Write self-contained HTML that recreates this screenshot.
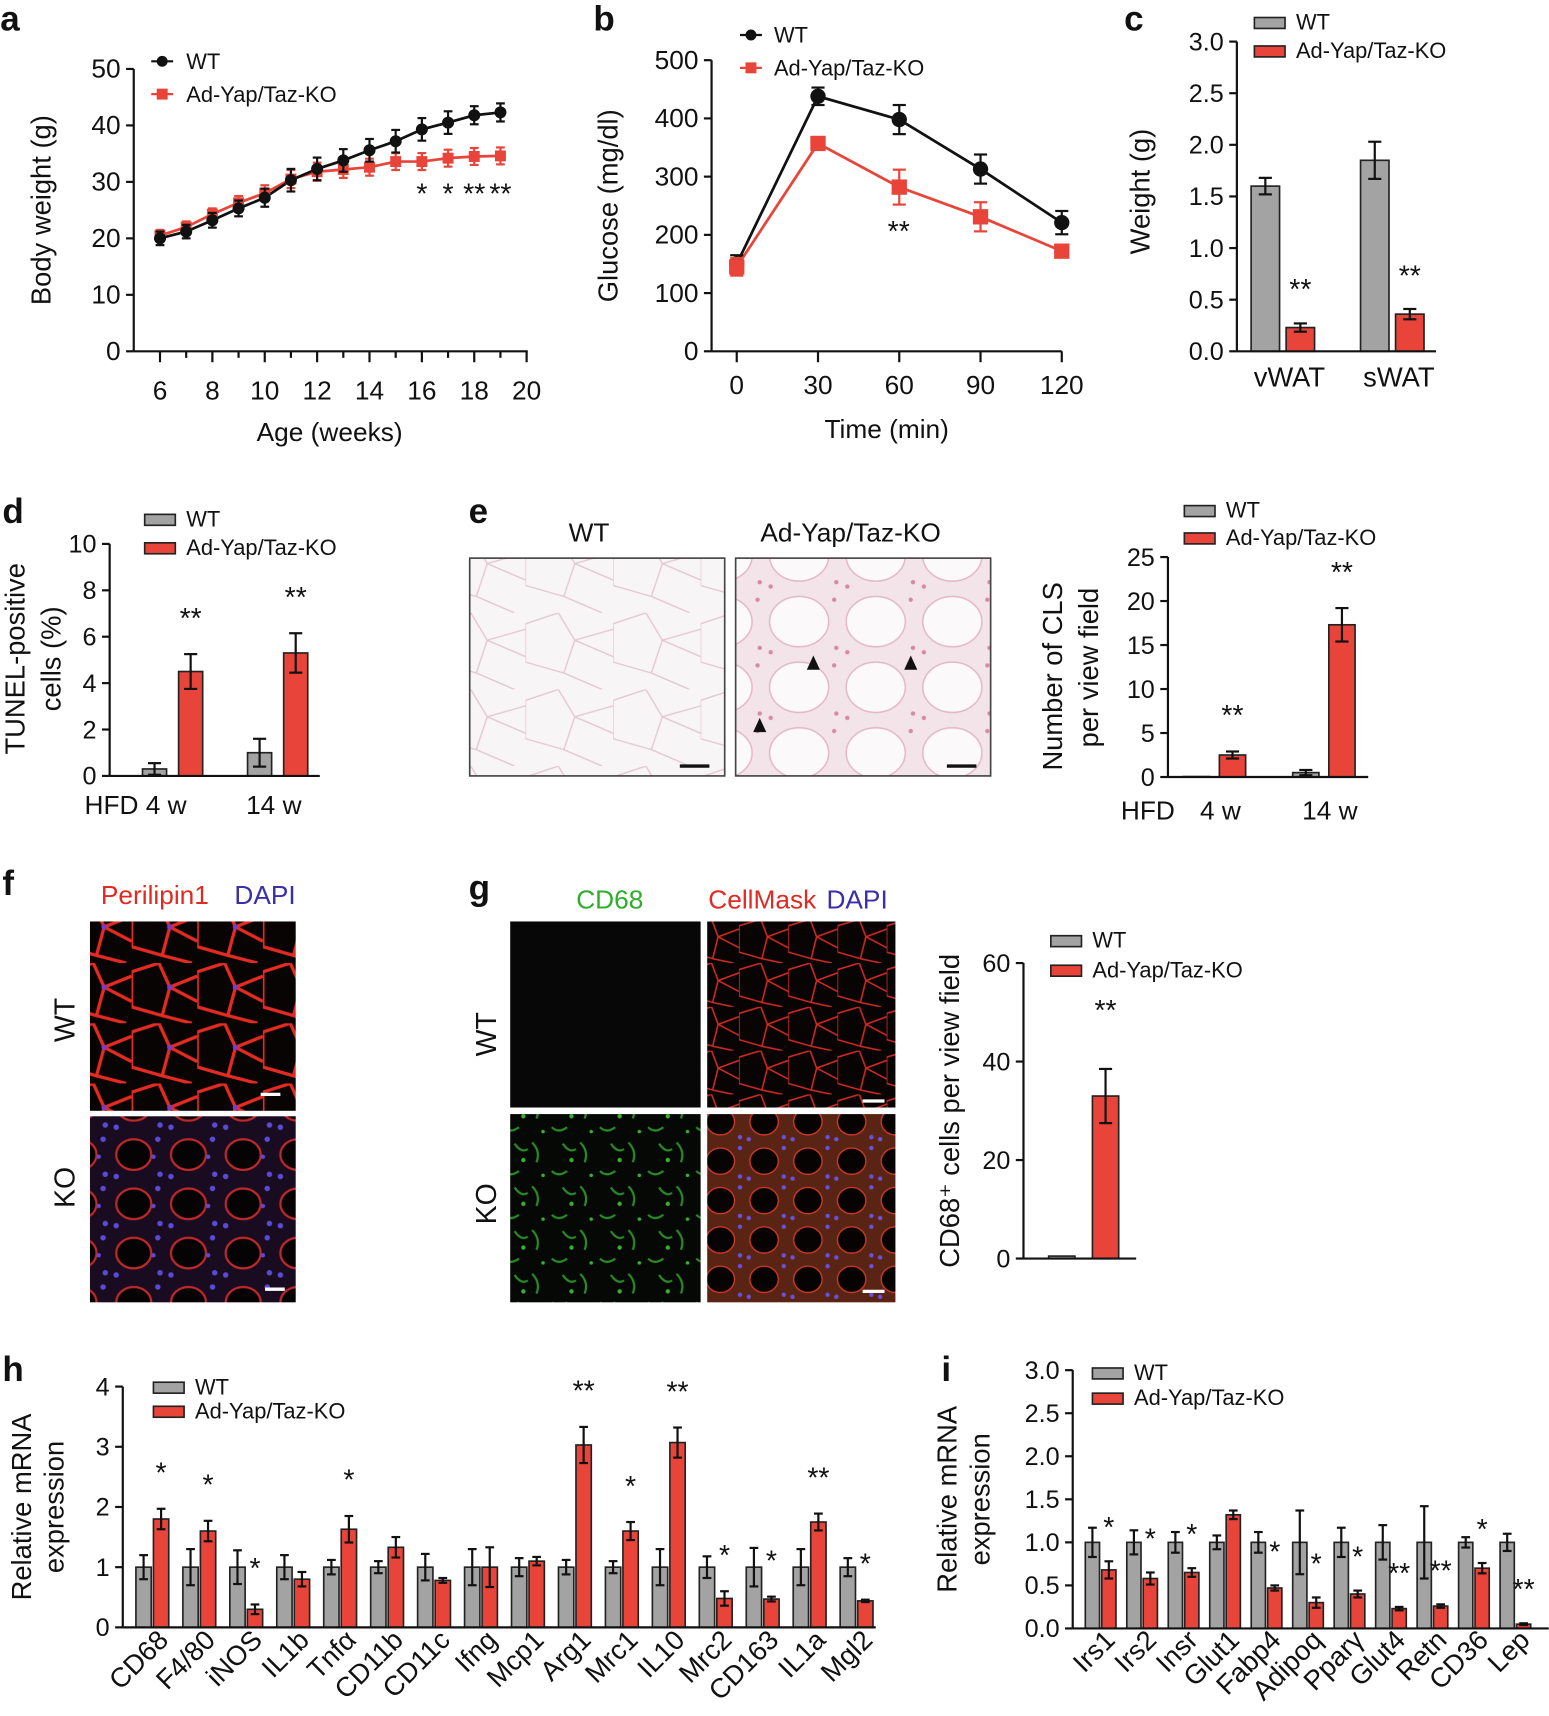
<!DOCTYPE html>
<html><head><meta charset="utf-8"><style>
html,body{margin:0;padding:0;background:#fff}
svg{display:block;font-family:"Liberation Sans",sans-serif}
</style></head><body>
<svg id="fig" width="1549" height="1716" viewBox="0 0 1415 1568" xmlns="http://www.w3.org/2000/svg">
<defs>
<pattern id="histoWT" width="80" height="70" patternUnits="userSpaceOnUse">
<rect width="80" height="70" fill="#f8f5f6"/>
<path d="M0 10 L30 0 M30 0 L45 25 L80 15 M45 25 L35 55 L0 45 M35 55 L70 70 M45 25 L80 40 M0 45 L0 10" stroke="#e2c6ce" stroke-width="1.2" fill="none"/>
</pattern>
<pattern id="histoKO" width="70" height="60" patternUnits="userSpaceOnUse">
<rect width="70" height="60" fill="#f3e4e9"/>
<ellipse cx="30" cy="28" rx="27" ry="23" fill="#fbf9fa" stroke="#e3b6c4" stroke-width="1.3"/>
<circle cx="62" cy="8" r="2" fill="#d88aa3"/><circle cx="64" cy="52" r="2" fill="#d88aa3"/><circle cx="4" cy="56" r="2" fill="#d88aa3"/>
</pattern>
<pattern id="fluoWT" width="60" height="55" patternUnits="userSpaceOnUse">
<rect width="60" height="55" fill="#080404"/>
<path d="M0 8 L25 0 M25 0 L35 22 L60 12 M35 22 L28 48 L0 40 M28 48 L55 55 M35 22 L60 35 M0 40 L0 8" stroke="#e52a22" stroke-width="3" fill="none"/>
<circle cx="35" cy="22" r="2.5" fill="#7a3cc8"/>
</pattern>
<pattern id="fluoKO" width="50" height="45" patternUnits="userSpaceOnUse">
<rect width="50" height="45" fill="#1a0c20"/>
<ellipse cx="22" cy="20" rx="16" ry="14" fill="#050303" stroke="#c0282a" stroke-width="2"/>
<circle cx="44" cy="6" r="2.5" fill="#5a4ad8"/><circle cx="46" cy="38" r="2.5" fill="#5a4ad8"/><circle cx="6" cy="40" r="2.5" fill="#5a4ad8"/><circle cx="40" cy="22" r="2" fill="#5a4ad8"/>
</pattern>
<pattern id="cellWT" width="45" height="40" patternUnits="userSpaceOnUse">
<rect width="45" height="40" fill="#080404"/>
<path d="M0 6 L20 0 M20 0 L26 16 L45 9 M26 16 L21 36 L0 30 M21 36 L40 40 M26 16 L45 26 M0 30 L0 6" stroke="#d42a22" stroke-width="1.4" fill="none"/>
</pattern>
<pattern id="cellKO" width="40" height="36" patternUnits="userSpaceOnUse">
<rect width="40" height="36" fill="#5a2414"/>
<ellipse cx="18" cy="17" rx="13" ry="12" fill="#080303" stroke="#d43a2a" stroke-width="1.2"/>
<circle cx="36" cy="5" r="2" fill="#6a50e0"/><circle cx="36" cy="31" r="2" fill="#6a50e0"/><circle cx="4" cy="33" r="2" fill="#6a50e0"/>
</pattern>
<pattern id="cd68KO" width="44" height="40" patternUnits="userSpaceOnUse">
<rect width="44" height="40" fill="#050805"/>
<path d="M2 4 Q10 12 6 22 M30 5 Q36 14 42 10 M20 30 Q26 36 34 30" stroke="#2a8a26" stroke-width="2" fill="none"/>
<circle cx="38" cy="20" r="2" fill="#3ab030"/><circle cx="12" cy="34" r="1.6" fill="#3ab030"/>
</pattern>
</defs>
</svg>
<script>
// ---------- data ----------
const aWeeks=[6,7,8,9,10,11,12,13,14,15,16,17,18,19];
const aWT=[20,21.2,23.2,25.3,27.2,30.3,32.3,33.8,35.6,37.2,39.3,40.5,41.8,42.3];
const aWTerr=[1.2,1.2,1.3,1.4,1.6,2,2,2,2,2,2,2,1.6,1.6];
const aKO=[20.5,22,24.3,26.3,28,30.5,31.8,32.2,32.6,33.6,33.6,34.2,34.5,34.6];
const aKOerr=[1,1,1,1.2,1.4,1.6,1.6,1.5,1.5,1.5,1.5,1.5,1.5,1.5];
const aStars=[[16,"*"],[17,"*"],[18,"**"],[19,"**"]];
const bTimes=[0,30,60,90,120];
const bWT=[150,438,398,313,221];
const bWTerr=[15,15,25,25,20];
const bKO=[145,357,282,231,172];
const bKOerr=[15,8,30,25,8];
const cCats=["vWAT","sWAT"];
const cWT=[1.6,1.85];
const cWTerr=[0.08,0.18];
const cKO=[0.23,0.36];
const cKOerr=[0.04,0.05];
const dCats=["4 w","14 w"];
const dWT=[0.3,1.0];
const dWTerr=[0.25,0.6];
const dKO=[4.5,5.3];
const dKOerr=[0.75,0.85];
const eWT=[0.05,0.5];
const eWTerr=[0,0.3];
const eKO=[2.5,17.3];
const eKOerr=[0.4,1.9];
const gWT=[0.5];
const gKO=[33];
const gKOerr=[5.5];
const hCats=["CD68","F4/80","iNOS","IL1b","Tnf\u03b1","CD11b","CD11c","Ifng","Mcp1","Arg1","Mrc1","IL10","Mrc2","CD163","IL1a","Mgl2"];
const hWT=[1,1,1,1,1,1,1,1,1,1,1,1,1,1,1,1];
const hWTerr=[0.2,0.3,0.28,0.2,0.12,0.1,0.22,0.3,0.15,0.12,0.1,0.3,0.18,0.32,0.3,0.15];
const hKO=[1.8,1.6,0.3,0.8,1.63,1.33,0.78,1.0,1.1,3.03,1.6,3.07,0.48,0.47,1.75,0.44];
const hKOerr=[0.17,0.17,0.08,0.12,0.22,0.17,0.04,0.33,0.07,0.3,0.15,0.25,0.12,0.04,0.14,0.02];
const hStars=["*","*","*","","*","","","","","**","*","**","*","*","**","*"];
const iCats=["Irs1","Irs2","Insr","Glut1","Fabp4","Adipoq","Ppar\u03b3","Glut4","Retn","CD36","Lep"];
const iWT=[1,1,1,1,1,1,1,1,1,1,1];
const iWTerr=[0.17,0.14,0.12,0.08,0.12,0.37,0.17,0.2,0.42,0.06,0.1];
const iKO=[0.68,0.58,0.65,1.32,0.47,0.3,0.4,0.23,0.26,0.7,0.05];
const iKOerr=[0.1,0.07,0.05,0.05,0.03,0.06,0.04,0.02,0.02,0.06,0.01];
const iStars=["*","*","*","","*","*","*","**","**","*","**"];

// ---------- helpers ----------
const NS="http://www.w3.org/2000/svg";
const svg=document.getElementById('fig');
const RED="#e8443a", GREY="#a3a3a3";
const SFS=26;
function el(tag,attrs,parent,txt){const e=document.createElementNS(NS,tag);for(const k in attrs)e.setAttribute(k,attrs[k]);if(txt!==undefined)e.textContent=txt;(parent||svg).appendChild(e);return e;}
function grp(name){const g=el('g',{});


return g;}
function lin(d0,d1,r0,r1){return v=>r0+(v-d0)*(r1-r0)/(d1-d0);}
function text(g,x,y,s,opt){opt=opt||{};const t=el('text',{x:x,y:y,'font-size':opt.fs||22,'text-anchor':opt.a||'middle',fill:opt.fill||'#111','font-weight':opt.w||'normal'},g,s);if(opt.rot)t.setAttribute('transform','rotate('+opt.rot+' '+x+' '+y+')');return t;}
function line(g,x1,y1,x2,y2,w,c){return el('line',{x1:x1,y1:y1,x2:x2,y2:y2,stroke:c||'#111','stroke-width':w||2},g);}
function yAxis(g,x,y,ticks,fmt,fs){const ys=ticks.map(y);line(g,x,Math.max(...ys),x,Math.min(...ys),2);ticks.forEach(t=>{line(g,x-7,y(t),x,y(t),2);text(g,x-12,y(t)+8,fmt(t),{a:'end',fs:fs||22});});}
function errbar(g,x,y0,y1,c,w){line(g,x,y0,x,y1,2,c);line(g,x-(w||5),y0,x+(w||5),y0,2,c);line(g,x-(w||5),y1,x+(w||5),y1,2,c);}
function legendBars(g,x,y,dy,fs){
 const r1=el('rect',{x:x,y:y,width:28,height:10,fill:GREY,stroke:'#222','stroke-width':1.5},g);
 
 
 text(g,x+38,y+11,'WT',{a:'start',fs:fs||20});
 const r2=el('rect',{x:x,y:y+dy,width:28,height:10,fill:RED,stroke:'#222','stroke-width':1.5},g);
 
 
 text(g,x+38,y+dy+11,'Ad-Yap/Taz-KO',{a:'start',fs:fs||20});
}
function bar(g,cx,w,yv,y0,fill,name){const r=el('rect',{x:cx-w/2,y:Math.min(yv,y0),width:w,height:Math.abs(y0-yv),fill:fill,stroke:'#222','stroke-width':1.5},g);
 
 
 return r;}

// ---------- panel labels ----------
const labs=[["a",0,28],["b",542,28],["c",1027,28],["d",2,478],["e",428,478],["f",2,818],["g",428,822],["h",2,1262],["i",860,1262]];
labs.forEach(([l,x,y])=>{const g=grp('panel-label-'+l);text(g,x,y,l,{a:'start',fs:32,w:'bold'});});

// ---------- panel a ----------
{const g=grp('panel-a-body-weight-chart');
 const X=lin(6,20,146,481),Y=lin(0,50,321,63);
 yAxis(g,122,Y,[0,10,20,30,40,50],t=>t,24);
 line(g,122,321,482,321,2);
 [6,8,10,12,14,16,18,20].forEach(t=>{line(g,X(t),321,X(t),331,2);text(g,X(t),365,t,{fs:24});});
 [7,9,11,13,15,17,19].forEach(t=>line(g,X(t),321,X(t),327,2));
 text(g,301,403,'Age (weeks)',{fs:24});
 text(g,46,192,'Body weight (g)',{fs:25,rot:-90});
 const pk=aWeeks.map((w,i)=>X(w)+','+Y(aKO[i])).join(' ');
 const p1=el('polyline',{points:pk,fill:'none',stroke:RED,'stroke-width':2.5},g);
 
 
 const pw=aWeeks.map((w,i)=>X(w)+','+Y(aWT[i])).join(' ');
 const p2=el('polyline',{points:pw,fill:'none',stroke:'#111','stroke-width':2.5},g);
 
 
 aWeeks.forEach((w,i)=>{errbar(g,X(w),Y(aKO[i]-aKOerr[i]),Y(aKO[i]+aKOerr[i]),RED,4);
  const r=el('rect',{x:X(w)-5,y:Y(aKO[i])-5,width:10,height:10,fill:RED},g);
  
  
  errbar(g,X(w),Y(aWT[i]-aWTerr[i]),Y(aWT[i]+aWTerr[i]),'#111',4);
  const c=el('circle',{cx:X(w),cy:Y(aWT[i]),r:5.5,fill:'#111'},g);
  
  });
 aStars.forEach(([w,s])=>text(g,X(w),186,s,{fs:SFS}));
 line(g,138,56,158,56,2);el('circle',{cx:148,cy:56,r:5,fill:'#111'},g);text(g,170,63,'WT',{a:'start',fs:20});
 line(g,138,86,158,86,2,RED);el('rect',{x:143,y:81,width:10,height:10,fill:RED},g);text(g,170,93,'Ad-Yap/Taz-KO',{a:'start',fs:20});
}
// ---------- panel b ----------
{const g=grp('panel-b-glucose-chart');
 const X=lin(0,120,673,970),Y=lin(0,500,321,55);
 yAxis(g,650,Y,[0,100,200,300,400,500],t=>t,24);
 line(g,650,321,970,321,2);
 bTimes.forEach(t=>{line(g,X(t),321,X(t),331,2);text(g,X(t),360,t,{fs:24});});
 text(g,810,400,'Time (min)',{fs:24});
 text(g,564,188,'Glucose (mg/dl)',{fs:25,rot:-90});
 const p1=el('polyline',{points:bTimes.map((t,i)=>X(t)+','+Y(bKO[i])).join(' '),fill:'none',stroke:RED,'stroke-width':2.5},g);
 
 
 const p2=el('polyline',{points:bTimes.map((t,i)=>X(t)+','+Y(bWT[i])).join(' '),fill:'none',stroke:'#111','stroke-width':2.5},g);
 
 
 bTimes.forEach((t,i)=>{errbar(g,X(t),Y(bWT[i]-bWTerr[i]),Y(bWT[i]+bWTerr[i]),'#111',6);
  const c=el('circle',{cx:X(t),cy:Y(bWT[i]),r:7,fill:'#111'},g);
  
  
  errbar(g,X(t),Y(bKO[i]-bKOerr[i]),Y(bKO[i]+bKOerr[i]),RED,6);
  const r=el('rect',{x:X(t)-7,y:Y(bKO[i])-7,width:14,height:14,fill:RED},g);
  
  });
 text(g,821,220,'**',{fs:SFS});
 line(g,676,32,696,32,2);el('circle',{cx:686,cy:32,r:5,fill:'#111'},g);text(g,707,39,'WT',{a:'start',fs:20});
 line(g,676,62,696,62,2,RED);el('rect',{x:681,y:57,width:10,height:10,fill:RED},g);text(g,707,69,'Ad-Yap/Taz-KO',{a:'start',fs:20});
}
// ---------- panel c ----------
{const g=grp('panel-c-fat-weight-chart');
 const Y=lin(0,3,321,38);
 yAxis(g,1130,Y,[0,0.5,1,1.5,2,2.5,3],t=>t.toFixed(1),23);
 const cx=[1156,1256];
 cCats.forEach((c,i)=>{bar(g,cx[i],26,Y(cWT[i]),321,GREY,'wt-bar-'+c);errbar(g,cx[i],Y(cWT[i]-cWTerr[i]),Y(cWT[i]+cWTerr[i]),'#111',6);
  bar(g,cx[i]+32,26,Y(cKO[i]),321,RED,'ko-bar-'+c);errbar(g,cx[i]+32,Y(cKO[i]-cKOerr[i]),Y(cKO[i]+cKOerr[i]),'#111',6);
  text(g,cx[i]+22,353,c,{fs:25});text(g,cx[i]+32,Y(cKO[i])-26,'**',{fs:SFS});});
 line(g,1130,321,1312,321,2);
 text(g,1050,175,'Weight (g)',{fs:25,rot:-90});
 legendBars(g,1146,16,26,20);
}
// ---------- panel d ----------
{const g=grp('panel-d-tunel-chart');
 const Y=lin(0,10,709,497);
 yAxis(g,100,Y,[0,2,4,6,8,10],t=>t,23);
 const cx=[141,237];
 dCats.forEach((c,i)=>{bar(g,cx[i],22,Y(dWT[i]),709,GREY,'wt-bar-'+c);errbar(g,cx[i],Y(Math.max(0,dWT[i]-dWTerr[i])),Y(dWT[i]+dWTerr[i]),'#111',6);
  bar(g,cx[i]+33,22,Y(dKO[i]),709,RED,'ko-bar-'+c);errbar(g,cx[i]+33,Y(dKO[i]-dKOerr[i]),Y(dKO[i]+dKOerr[i]),'#111',6);
  text(g,cx[i]+33,Y(dKO[i]+dKOerr[i])-24,'**',{fs:SFS});});
 line(g,100,709,292,709,2);
 text(g,77,744,'HFD 4 w',{a:'start',fs:24});text(g,250,744,'14 w',{fs:24});
 text(g,22,602,'TUNEL-positive',{fs:25,rot:-90});text(g,55,602,'cells (%)',{fs:25,rot:-90});
 legendBars(g,132,470,26,20);
}
// ---------- panel e ----------
{const g=grp('panel-e-histology-and-cls-chart');
 text(g,538,495,'WT',{fs:24});text(g,777,495,'Ad-Yap/Taz-KO',{fs:24});
 const i1=el('rect',{x:429,y:510,width:233,height:199,fill:'url(#histoWT)',stroke:'#444','stroke-width':1.5},g);
 
 
 const i2=el('rect',{x:672,y:510,width:233,height:199,fill:'url(#histoKO)',stroke:'#444','stroke-width':1.5},g);
 
 
 line(g,621,700,648,700,3);line(g,865,700,892,700,3);
 [[743,606],[832,606],[694,663]].forEach(([x,y])=>el('polygon',{points:(x-6)+','+(y+6)+' '+(x+6)+','+(y+6)+' '+x+','+(y-7),fill:'#111'},g));
 const Y=lin(0,25,710,509);
 yAxis(g,1067,Y,[0,5,10,15,20,25],t=>t,23);
 const cx=[1093,1193];
 [0,1].forEach(i=>{bar(g,cx[i],24,Y(eWT[i]),710,GREY,'wt-bar');if(eWTerr[i])errbar(g,cx[i],Y(eWT[i]-eWTerr[i]),Y(eWT[i]+eWTerr[i]),'#111',6);
  bar(g,cx[i]+33,24,Y(eKO[i]),710,RED,'ko-bar');errbar(g,cx[i]+33,Y(eKO[i]-eKOerr[i]),Y(eKO[i]+eKOerr[i]),'#111',6);
  text(g,cx[i]+33,Y(eKO[i]+eKOerr[i])-24,'**',{fs:SFS});});
 line(g,1067,710,1250,710,2);
 text(g,1024,749,'HFD',{a:'start',fs:24});text(g,1115,749,'4 w',{fs:24});text(g,1215,749,'14 w',{fs:24});
 text(g,970,618,'Number of CLS',{fs:25,rot:-90});text(g,1003,610,'per view field',{fs:25,rot:-90});
 legendBars(g,1082,462,25,20);
}
// ---------- panel f ----------
{const g=grp('panel-f-perilipin-images');
 text(g,92,826,'Perilipin1',{a:'start',fs:24,fill:'#e02a22'});text(g,214,826,'DAPI',{a:'start',fs:24,fill:'#3a2fa8'});
 const i1=el('rect',{x:82,y:842,width:188,height:173,fill:'url(#fluoWT)'},g);
 
 
 const i2=el('rect',{x:82,y:1020,width:188,height:170,fill:'url(#fluoKO)'},g);
 
 
 line(g,238,1000,256,1000,3,'#fff');line(g,242,1178,260,1178,3,'#fff');
 text(g,68,932,'WT',{fs:26,rot:-90});text(g,68,1085,'KO',{fs:26,rot:-90});
}
// ---------- panel g ----------
{const g=grp('panel-g-cd68-images-and-chart');
 text(g,557,830,'CD68',{fs:24,fill:'#2fae2a'});text(g,647,830,'CellMask',{a:'start',fs:24,fill:'#e02a22'});text(g,755,830,'DAPI',{a:'start',fs:24,fill:'#3a2fa8'});
 const ims=[[466,842,174,170,'#070707','cd68-image-wt'],[646,842,172,170,'url(#cellWT)','cellmask-image-wt'],[466,1018,174,172,'url(#cd68KO)','cd68-image-ko'],[646,1018,172,172,'url(#cellKO)','cellmask-image-ko']];
 ims.forEach(([x,y,w,h,f,n])=>{const r=el('rect',{x:x,y:y,width:w,height:h,fill:f},g);
  
  });
 line(g,788,1006,808,1006,3,'#fff');line(g,788,1180,808,1180,3,'#fff');
 text(g,453,945,'WT',{fs:26,rot:-90});text(g,453,1100,'KO',{fs:26,rot:-90});
 const Y=lin(0,60,1150,880);
 yAxis(g,935,Y,[0,20,40,60],t=>t,23);
 bar(g,970,24,Y(gWT[0]),1150,GREY,'wt-bar');
 bar(g,1010,24,Y(gKO[0]),1150,RED,'ko-bar');errbar(g,1010,Y(gKO[0]-gKOerr[0]),Y(gKO[0]+gKOerr[0]),'#111',6);
 text(g,1010,932,'**',{fs:SFS});
 line(g,935,1150,1038,1150,2);
 text(g,876,1015,'CD68\u207a cells  per view field',{fs:25,rot:-90});
 legendBars(g,960,855,27,20);
}
// ---------- panel h ----------
{const g=grp('panel-h-macrophage-mrna-chart');
 const Y=lin(0,4,1487,1267);
 yAxis(g,112,Y,[0,1,2,3,4],t=>t,23);
 const X=i=>131+i*42.9;
 hCats.forEach((c,i)=>{bar(g,X(i),14,Y(hWT[i]),1487,GREY,'wt-bar-'+c);errbar(g,X(i),Y(hWT[i]-hWTerr[i]),Y(hWT[i]+hWTerr[i]),'#111',4);
  bar(g,X(i)+16,14,Y(hKO[i]),1487,RED,'ko-bar-'+c);errbar(g,X(i)+16,Y(hKO[i]-hKOerr[i]),Y(hKO[i]+hKOerr[i]),'#111',4);
  if(hStars[i])text(g,X(i)+16,Y(hKO[i]+hKOerr[i])-24,hStars[i],{fs:SFS});
  text(g,X(i)+24,1500,c,{a:'end',fs:25,rot:-45});});
 line(g,112,1487,800,1487,2);
 text(g,28,1377,'Relative mRNA',{fs:25,rot:-90});text(g,58,1377,'expression',{fs:25,rot:-90});
 legendBars(g,140,1263,22,20);
}
// ---------- panel i ----------
{const g=grp('panel-i-adipocyte-mrna-chart');
 const Y=lin(0,3,1488,1252);
 yAxis(g,980,Y,[0,0.5,1,1.5,2,2.5,3],t=>t.toFixed(1),23);
 const X=i=>998+i*37.9;
 iCats.forEach((c,i)=>{bar(g,X(i),13,Y(iWT[i]),1488,GREY,'wt-bar-'+c);errbar(g,X(i),Y(iWT[i]-iWTerr[i]),Y(iWT[i]+iWTerr[i]),'#111',4);
  bar(g,X(i)+15,13,Y(iKO[i]),1488,RED,'ko-bar-'+c);errbar(g,X(i)+15,Y(iKO[i]-iKOerr[i]),Y(iKO[i]+iKOerr[i]),'#111',4);
  if(iStars[i])text(g,X(i)+15,Y(iKO[i]+iKOerr[i])-22,iStars[i],{fs:SFS});
  text(g,X(i)+22,1500,c,{a:'end',fs:25,rot:-45});});
 line(g,980,1488,1415,1488,2);
 text(g,874,1370,'Relative mRNA',{fs:25,rot:-90});text(g,904,1370,'expression',{fs:25,rot:-90});
 legendBars(g,998,1250,23,20);
}
</script>
</body></html>
